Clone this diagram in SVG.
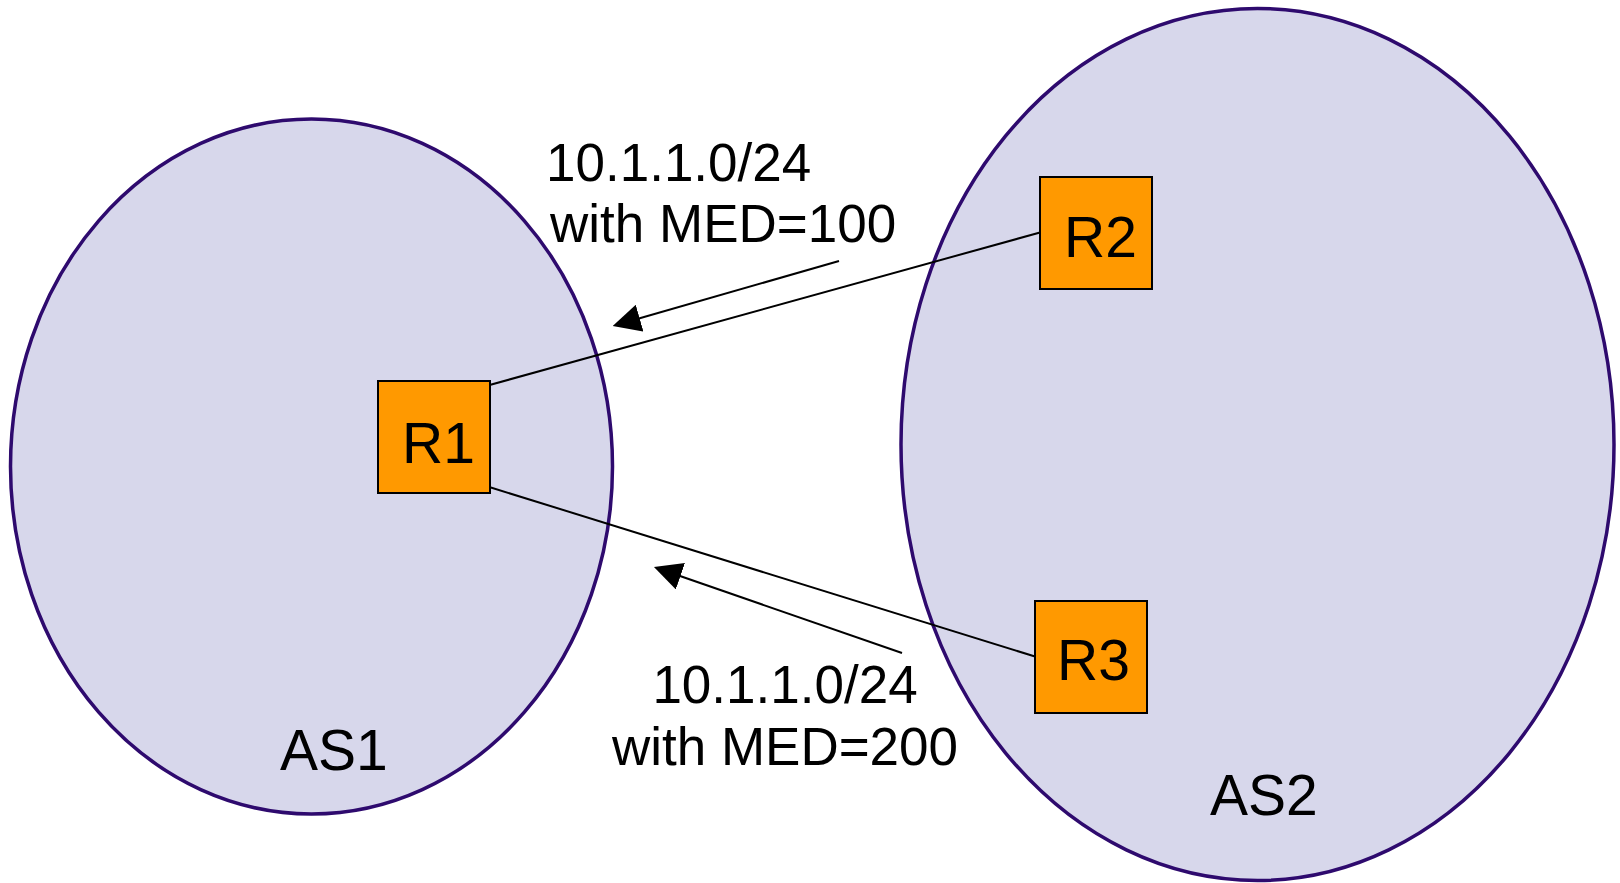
<svg xmlns="http://www.w3.org/2000/svg" width="1620" height="883" viewBox="0 0 1620 883">
<style>
.as{fill:#D7D7EB;stroke:#2E0A6E;stroke-width:3.5}
.rt{fill:#FF9900;stroke:#000;stroke-width:2}
.t{font-family:"Liberation Sans",Arial,sans-serif;font-size:53px;fill:#000}
.n{font-size:57px}
.ln{stroke:#000;stroke-width:2;fill:none}
</style>
<defs>
<marker id="ah" viewBox="0 0 28 28" refX="18" refY="14" markerWidth="28" markerHeight="28" markerUnits="userSpaceOnUse" orient="auto">
<path d="M0,0 L28,14 L0,28 z" fill="#000"/>
</marker>
</defs>
<rect width="1620" height="883" fill="#fff"/>
<g id="as1">
<ellipse class="as" cx="311.5" cy="466.5" rx="301" ry="347.5"/>
<text class="t n" x="280" y="770">AS1</text>
</g>
<g id="as2">
<ellipse class="as" cx="1257.5" cy="444.5" rx="356.5" ry="436"/>
<text class="t n" x="1210" y="815">AS2</text>
</g>
<g id="connectors">
<line class="ln" x1="486" y1="386" x2="1040" y2="232.5"/>
<line class="ln" x1="486" y1="486" x2="1035" y2="656.5"/>
<line class="ln" x1="839" y1="261" x2="622.3" y2="323.2" marker-end="url(#ah)"/>
<line class="ln" x1="902" y1="653" x2="663.4" y2="570.3" marker-end="url(#ah)"/>
</g>
<g id="r1">
<rect class="rt" x="378" y="381" width="112" height="112"/>
<text class="t n" x="402" y="463">R1</text>
</g>
<g id="r2">
<rect class="rt" x="1040" y="177" width="112" height="112"/>
<text class="t n" x="1064" y="257">R2</text>
</g>
<g id="r3">
<rect class="rt" x="1035" y="601" width="112" height="112"/>
<text class="t n" x="1057" y="680">R3</text>
</g>
<g id="label-med100">
<text class="t" x="546" y="181">10.1.1.0/24</text>
<text class="t" x="550" y="242">with MED=100</text>
</g>
<g id="label-med200">
<text class="t" x="785" y="703" text-anchor="middle">10.1.1.0/24</text>
<text class="t" x="785" y="765" text-anchor="middle">with MED=200</text>
</g>
</svg>
